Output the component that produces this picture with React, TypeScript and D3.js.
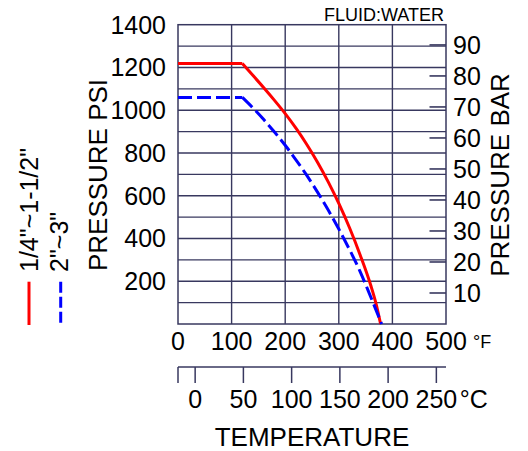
import React from "react";
import * as d3 from "d3";

const psiTicks = [200, 400, 600, 800, 1000, 1200, 1400];
const psiGrid = [100, 200, 300, 400, 500, 600, 700, 800, 900, 1000, 1100, 1200, 1300];
const fTicks = [0, 100, 200, 300, 400, 500];
const barTicks = [10, 20, 30, 40, 50, 60, 70, 80, 90];
const cTicks = [0, 50, 100, 150, 200, 250];

const redTemp = [0, 120, 140, 160, 180, 200, 220, 240, 260, 280, 300, 320, 340, 360, 369, 378];
const redPsi = [1218, 1218, 1162, 1105, 1046, 984, 916, 841, 758, 666, 564, 450, 322, 178, 100, 0];
const blueTemp = [0, 120, 140, 160, 180, 200, 220, 240, 260, 280, 300, 320, 340, 360, 380];
const bluePsi = [1060, 1060, 1010, 956, 898, 836, 768, 696, 618, 534, 444, 348, 244, 124, 0];

const seriesNames = ['1/4"~1-1/2"', '2"~3"'];

const W = 528;
const H = 451;
const FONT = "'Liberation Sans', Arial, Helvetica, sans-serif";
const GRID = "#38385f";
const RED = "#ff0000";
const BLUE = "#0000ff";
const PSI_PER_BAR = 14.5038;

export default function App() {
  const x = d3.scaleLinear().domain([0, 500]).range([178, 446]);
  const y = d3.scaleLinear().domain([0, 1400]).range([324, 24.7]);
  const yBar = d3.scaleLinear().domain([0, 1400 / PSI_PER_BAR]).range([324, 24.7]);
  const xC = (c: number) => x((c * 9) / 5 + 32);

  const line = d3
    .line<[number, number]>()
    .x((d) => x(d[0]))
    .y((d) => y(d[1]));
  const curve = d3
    .line<[number, number]>()
    .x((d) => x(d[0]))
    .y((d) => y(d[1]))
    .curve(d3.curveMonotoneX);

  const redPts: [number, number][] = redTemp.map((t, i) => [t, redPsi[i]]);
  const bluePts: [number, number][] = blueTemp.map((t, i) => [t, bluePsi[i]]);

  const [x0, x1] = x.range();
  const [yb, yt] = y.range();
  const cAxisY = 367;

  return (
    <svg
      width={W}
      height={H}
      style={{ position: "absolute", left: 0, top: 0, background: "#fff" }}
      fontFamily={FONT}
    >
      <rect width={W} height={H} fill="#fff" />
      {/* grid */}
      {psiGrid.map((v) => (
        <line key={"h" + v} x1={x0} x2={x1} y1={y(v)} y2={y(v)} stroke={GRID} strokeWidth={1.4} />
      ))}
      {fTicks.slice(1, -1).map((v) => (
        <line key={"v" + v} x1={x(v)} x2={x(v)} y1={yb} y2={yt} stroke={GRID} strokeWidth={1.4} />
      ))}
      <rect x={x0} y={yt} width={x1 - x0} height={yb - yt} fill="none" stroke={GRID} strokeWidth={1.5} />

      {/* bar ticks */}
      {barTicks.map((v) => (
        <g key={"b" + v}>
          <line x1={x1 - 16.5} x2={x1} y1={yBar(v)} y2={yBar(v)} stroke={GRID} strokeWidth={1.6} />
          <text x={453} y={yBar(v)} dy="0.36em" fontSize={25} fill="#000">
            {v}
          </text>
        </g>
      ))}

      {/* psi labels */}
      {psiTicks.map((v) => (
        <text key={"p" + v} x={166} y={y(v)} dy="0.36em" textAnchor="end" fontSize={25} fill="#000">
          {v}
        </text>
      ))}

      {/* F labels */}
      {fTicks.map((v) => (
        <text key={"f" + v} x={x(v)} y={349.5} textAnchor="middle" fontSize={25} fill="#000">
          {v}
        </text>
      ))}
      <text x={473} y={348} fontSize={18} fill="#000">
        °F
      </text>

      {/* C axis */}
      <line x1={x0} x2={x1} y1={cAxisY} y2={cAxisY} stroke={GRID} strokeWidth={1.5} />
      <line x1={x0} x2={x0} y1={cAxisY} y2={cAxisY + 16} stroke={GRID} strokeWidth={1.5} />
      {cTicks.map((c) => (
        <g key={"c" + c}>
          <line x1={xC(c)} x2={xC(c)} y1={cAxisY} y2={cAxisY + 16} stroke={GRID} strokeWidth={1.5} />
          <text x={xC(c)} y={408.3} textAnchor="middle" fontSize={25} fill="#000">
            {c}
          </text>
        </g>
      ))}
      <text x={xC(250) + 23.5} y={408.3} fontSize={25} fill="#000">
        °C
      </text>

      <text x={(x0 + x1) / 2} y={446} textAnchor="middle" fontSize={26} fill="#000">
        TEMPERATURE
      </text>

      {/* axis titles */}
      <text transform={`translate(107.3,175) rotate(-90)`} textAnchor="middle" fontSize={26} fill="#000">
        PRESSURE PSI
      </text>
      <text transform={`translate(509,175) rotate(-90)`} textAnchor="middle" fontSize={26} fill="#000">
        PRESSURE BAR
      </text>

      <text x={444} y={20.7} textAnchor="end" fontSize={18} fill="#000">
        FLUID:WATER
      </text>

      {/* curves */}
      <path d={line(redPts.slice(0, 2)) || ""} fill="none" stroke={RED} strokeWidth={3} />
      <path d={curve(redPts.slice(1)) || ""} fill="none" stroke={RED} strokeWidth={3} />
      <path d={line(bluePts.slice(0, 2)) || ""} fill="none" stroke={BLUE} strokeWidth={3} strokeDasharray="14,5" />
      <path d={curve(bluePts.slice(1)) || ""} fill="none" stroke={BLUE} strokeWidth={3} strokeDasharray="14,5" />

      {/* legend */}
      <text transform={`translate(37.5,272) rotate(-90)`} fontSize={25} fill="#000">
        {seriesNames[0]}
      </text>
      <line x1={29} x2={29} y1={281.7} y2={325} stroke={RED} strokeWidth={3} />
      <text transform={`translate(67.5,272) rotate(-90)`} fontSize={25} fill="#000">
        {seriesNames[1]}
      </text>
      <line x1={60.7} x2={60.7} y1={281.7} y2={325} stroke={BLUE} strokeWidth={3} strokeDasharray="11,4" />
    </svg>
  );
}
